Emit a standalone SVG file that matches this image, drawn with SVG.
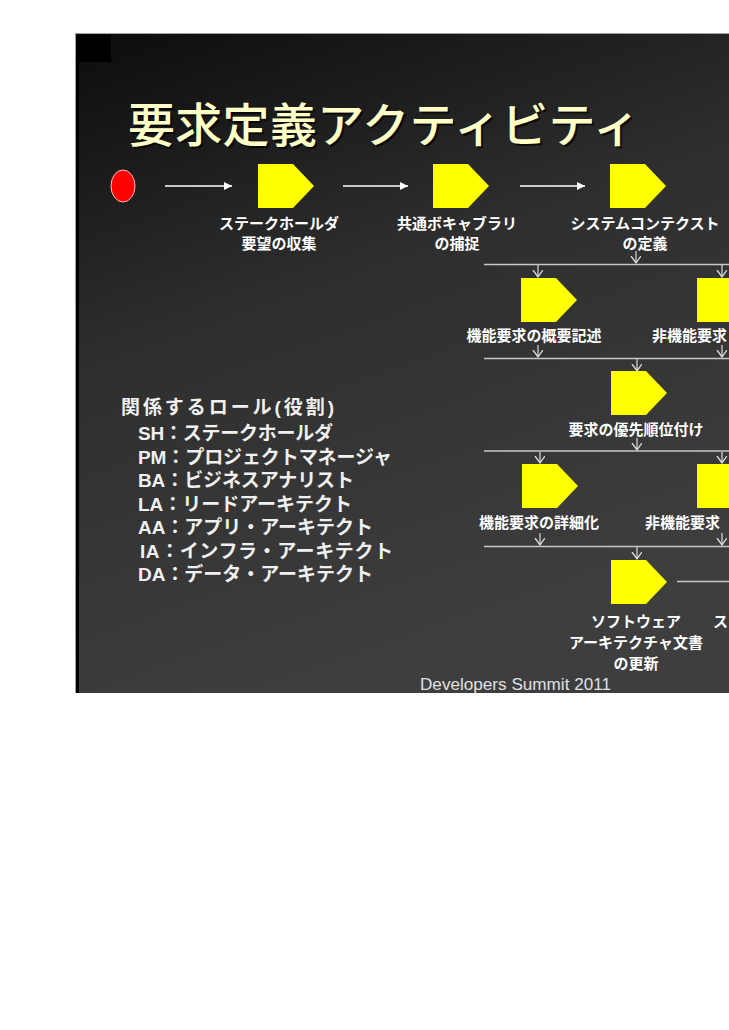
<svg xmlns="http://www.w3.org/2000/svg" width="729" height="1030" viewBox="0 0 729 1030">
<defs>
<linearGradient id="bg" x1="0" y1="0" x2="0.35" y2="1">
<stop offset="0" stop-color="#0c0c0c"/>
<stop offset="0.45" stop-color="#2e2e2e"/>
<stop offset="1" stop-color="#3e3e3e"/>
</linearGradient>
<marker id="tri" markerUnits="userSpaceOnUse" markerWidth="10" markerHeight="10" refX="8" refY="4" orient="auto">
<path d="M0,0 L8,4 L0,8 Z" fill="#ffffff"/>
</marker>
<marker id="vee" markerUnits="userSpaceOnUse" markerWidth="12" markerHeight="12" refX="7" refY="5" orient="auto">
<path d="M0,0 L7,5 L0,10" fill="none" stroke="#e0e0e0" stroke-width="1.3"/>
</marker>
<path id="pent" d="M0,0 L35,0 L56,22 L35,44 L0,44 Z"/>
</defs>
<style>
.lbl{font-family:"Noto Sans CJK JP","Noto Sans",sans-serif;font-size:15px;font-weight:bold;fill:#ffffff;text-anchor:middle}
.leg{font-family:"Liberation Sans","Noto Sans CJK JP",sans-serif;font-size:19px;font-weight:bold;fill:#f0f0f0}
.pent{fill:#ffff00}
.ln{stroke:#c8c8c8;stroke-width:1.5;fill:none}
.dn{stroke:#dcdcdc;stroke-width:1.2;fill:none;marker-end:url(#vee)}
.fl{stroke:#ffffff;stroke-width:1.5;fill:none;marker-end:url(#tri)}
</style>
<rect x="0" y="0" width="729" height="1030" fill="#ffffff"/>
<g id="slide">
<rect x="75" y="33" width="660" height="660" fill="url(#bg)"/>
<rect x="75" y="33" width="4" height="660" fill="#000000"/>
<rect x="79" y="35" width="32" height="27" fill="#000000"/>
<line x1="75" y1="33.5" x2="729" y2="33.5" stroke="#a0a0a0" stroke-width="1"/>
<line x1="75.5" y1="33" x2="75.5" y2="693" stroke="#a0a0a0" stroke-width="1"/>
</g>
<g id="title">
<text x="130" y="144" font-family="'Noto Sans CJK JP',sans-serif" font-size="47" font-weight="500" fill="#000000" fill-opacity="0.7" textLength="512" lengthAdjust="spacing">要求定義アクティビティ</text>
<text x="128" y="142" font-family="'Noto Sans CJK JP',sans-serif" font-size="47" font-weight="500" fill="#ffffc8" textLength="512" lengthAdjust="spacing">要求定義アクティビティ</text>
</g>
<g id="connectors">
<line class="fl" x1="165" y1="186" x2="232" y2="186"/>
<line class="fl" x1="343" y1="186" x2="408" y2="186"/>
<line class="fl" x1="520" y1="186" x2="585" y2="186"/>
<line class="dn" x1="636" y1="251" x2="636" y2="263"/>
<line class="ln" x1="484" y1="264.5" x2="729" y2="264.5"/>
<line class="dn" x1="538" y1="265" x2="538" y2="277"/>
<line class="dn" x1="722" y1="265" x2="722" y2="277"/>
<line class="dn" x1="538" y1="345" x2="538" y2="357"/>
<line class="dn" x1="722" y1="345" x2="722" y2="357"/>
<line class="ln" x1="484" y1="358.5" x2="729" y2="358.5"/>
<line class="dn" x1="637" y1="359" x2="637" y2="371"/>
<line class="dn" x1="637" y1="438" x2="637" y2="450"/>
<line class="ln" x1="484" y1="451" x2="729" y2="451"/>
<line class="dn" x1="540" y1="452" x2="540" y2="463"/>
<line class="dn" x1="722" y1="452" x2="722" y2="463"/>
<line class="dn" x1="540" y1="533" x2="540" y2="545"/>
<line class="dn" x1="722" y1="533" x2="722" y2="545"/>
<line class="ln" x1="484" y1="546.5" x2="729" y2="546.5"/>
<line class="dn" x1="637" y1="547" x2="637" y2="559"/>
<line class="ln" x1="677" y1="581.5" x2="729" y2="581.5" stroke="#ffffff"/>
</g>
<g id="start">
<ellipse cx="123" cy="186" rx="12" ry="16" fill="#ff0000" stroke="#ffc0c0" stroke-width="1"/>
</g>
<g id="n1">
<use href="#pent" class="pent" x="258" y="164"/>
<text class="lbl" x="279" y="229">ステークホールダ</text>
<text class="lbl" x="279" y="249">要望の収集</text>
</g>
<g id="n2">
<use href="#pent" class="pent" x="433" y="164"/>
<text class="lbl" x="457" y="229">共通ボキャブラリ</text>
<text class="lbl" x="457" y="249">の捕捉</text>
</g>
<g id="n3">
<use href="#pent" class="pent" x="610" y="164"/>
<text class="lbl" x="645" y="229">システムコンテクスト</text>
<text class="lbl" x="645" y="249">の定義</text>
</g>
<g id="n4">
<use href="#pent" class="pent" x="521" y="278"/>
<text class="lbl" x="534" y="341">機能要求の概要記述</text>
</g>
<g id="n5">
<use href="#pent" class="pent" x="697" y="278"/>
<text class="lbl" x="652" y="341" style="text-anchor:start">非機能要求</text>
</g>
<g id="n6">
<use href="#pent" class="pent" x="611" y="371"/>
<text class="lbl" x="636" y="435">要求の優先順位付け</text>
</g>
<g id="n7">
<use href="#pent" class="pent" x="522" y="464"/>
<text class="lbl" x="539" y="528">機能要求の詳細化</text>
</g>
<g id="n8">
<use href="#pent" class="pent" x="697" y="464"/>
<text class="lbl" x="645" y="528" style="text-anchor:start">非機能要求</text>
</g>
<g id="n9">
<use href="#pent" class="pent" x="611" y="560"/>
<text class="lbl" x="636" y="627">ソフトウェア</text>
<text class="lbl" x="636" y="648">アーキテクチャ文書</text>
<text class="lbl" x="636" y="669">の更新</text>
</g>
<g id="n10">
<text class="lbl" x="713" y="627" style="text-anchor:start">ス</text>
</g>
<g id="legend">
<text class="leg" x="121" y="414" textLength="213" lengthAdjust="spacing">関係するロール(役割)</text>
<text class="leg" x="138" y="440" textLength="195" lengthAdjust="spacing">SH：ステークホールダ</text>
<text class="leg" x="138" y="463.5" textLength="254" lengthAdjust="spacing">PM：プロジェクトマネージャ</text>
<text class="leg" x="138" y="487" textLength="216" lengthAdjust="spacing">BA：ビジネスアナリスト</text>
<text class="leg" x="138" y="510.5" textLength="214" lengthAdjust="spacing">LA：リードアーキテクト</text>
<text class="leg" x="138" y="534" textLength="235" lengthAdjust="spacing">AA：アプリ・アーキテクト</text>
<text class="leg" x="140" y="557.5" textLength="253" lengthAdjust="spacing">IA：インフラ・アーキテクト</text>
<text class="leg" x="138" y="581" textLength="235" lengthAdjust="spacing">DA：データ・アーキテクト</text>
</g>
<g id="footer">
<text x="420" y="690" font-family="'Liberation Sans',Arial,sans-serif" font-size="16" fill="#e0e0e0" textLength="191" lengthAdjust="spacingAndGlyphs">Developers Summit 2011</text>
</g>
</svg>
